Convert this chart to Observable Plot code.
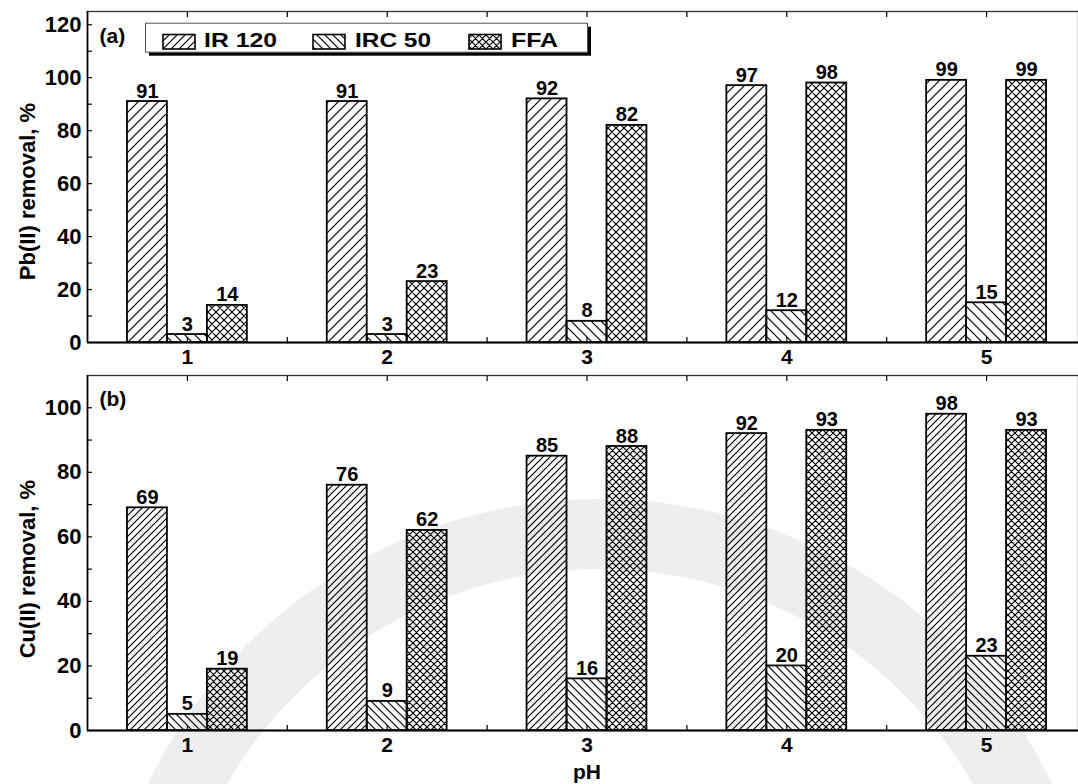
<!DOCTYPE html>
<html><head><meta charset="utf-8">
<script src="https://cdn.jsdelivr.net/npm/d3@7"></script>
<script src="https://cdn.jsdelivr.net/npm/@observablehq/plot@0.6"></script>
<style>
html,body{margin:0;padding:0;background:#fff;overflow:hidden;}
#wrap{position:relative;width:1078px;height:784px;overflow:hidden;font-family:"Liberation Sans",Arial,sans-serif;font-weight:bold;color:#000;}
#wm{position:absolute;left:0;top:0;}
.panel{position:absolute;left:0;width:1078px;overflow:hidden;}
.panel svg{overflow:hidden;}
#legend{position:absolute;left:143px;top:21px;}
</style></head>
<body><div id="wrap">
<svg id="wm" width="1078" height="784"></svg>
<div class="panel" id="pa" style="top:0px"></div>
<div class="panel" id="pb" style="top:370px"></div>
<svg id="legend" width="455" height="42"></svg>
</div>
<script>
// ---- data ----
const pH = [1, 2, 3, 4, 5];
const seriesNames = ["IR 120", "IRC 50", "FFA"];
// (a) Pb(II) removal, %
const pbIR120 = [91, 91, 92, 97, 99];
const pbIRC50 = [3, 3, 8, 12, 15];
const pbFFA   = [14, 23, 82, 98, 99];
// (b) Cu(II) removal, %
const cuIR120 = [69, 76, 85, 92, 98];
const cuIRC50 = [5, 9, 16, 20, 23];
const cuFFA   = [19, 62, 88, 93, 93];
const yTicksA = [0, 20, 40, 60, 80, 100, 120];
const yTicksB = [0, 20, 40, 60, 80, 100];
const xTickLabels = ["1", "2", "3", "4", "5"];

// ---- watermark (faint background artifact of the scan) ----
d3.select("#wm").append("circle").attr("cx", 600).attr("cy", 1000).attr("r", 466)
  .attr("fill", "none").attr("stroke", "#eeeeee").attr("stroke-width", 70);

// ---- patterns ----
function addPatterns(svg, prefix, s) {
  const defs = d3.select(svg).insert("defs", ":first-child");
  const mk = (id, size, d) => {
    const p = defs.append("pattern").attr("id", id).attr("patternUnits", "userSpaceOnUse")
      .attr("width", size).attr("height", size);
    p.append("path").attr("d", d).attr("stroke", "#000").attr("stroke-width", 1.2)
      .attr("fill", "none").attr("stroke-linecap", "square");
  };
  const f = (n) => `M0,${n} L${n},0 M-1,1 L1,-1 M${n-1},${n+1} L${n+1},${n-1}`;
  const b = (n) => `M0,0 L${n},${n} M-1,${n-1} L1,${n+1} M${n-1},-1 L${n+1},1`;
  mk(prefix + "0", s[0], f(s[0]));
  mk(prefix + "1", s[1], b(s[1]));
  mk(prefix + "2", s[2], f(s[2]) + " " + b(s[2]));
}

function rows(vals) {
  const out = [];
  seriesNames.forEach((s, i) => vals[i].forEach((v, j) => out.push({series: s, idx: i, pH: pH[j], value: v})));
  return out;
}
const BW = 0.2;
const xMinor = [1, 1.5, 2, 2.5, 3, 3.5, 4, 4.5, 5];

function panel(o) {
  const data = rows(o.values);
  const marks = [];
  seriesNames.forEach((s, i) => {
    marks.push(Plot.rect(data.filter(d => d.idx === i), {
      x1: d => d.pH + (d.idx - 1.5) * BW, x2: d => d.pH + (d.idx - 0.5) * BW,
      y1: 0, y2: "value", fill: `url(#${o.prefix}${i})`, stroke: "#000", strokeWidth: 1.8
    }));
  });
  marks.push(
    Plot.text(data, {x: d => d.pH + (d.idx - 1) * BW, y: "value", text: d => String(d.value),
      lineAnchor: "bottom", dy: -4, fontSize: 20, fontWeight: "bold", fill: "#000"}),
    Plot.frame({stroke: "#333", strokeWidth: 1.3}),
    Plot.ruleY([0], {stroke: "#000", strokeWidth: 2}),
    Plot.ruleX([0.5], {stroke: "#000", strokeWidth: 1.6}),
    Plot.axisY({ticks: o.yTicks, tickSize: 0, tickPadding: 6, fontSize: 22, fontWeight: "bold", label: null}),
    Plot.axisY({ticks: o.yMinor, tickSize: 5, dx: 5, text: null, label: null, strokeWidth: 1.2}),
    Plot.axisX({ticks: pH, tickSize: 0, tickPadding: 7, fontSize: 21, fontWeight: "bold", label: null,
      tickFormat: (d, i) => xTickLabels[i]}),
    Plot.axisX({anchor: "bottom", ticks: xMinor, tickSize: 5, dy: -5, text: null, label: null, strokeWidth: 1.2}),
    Plot.axisX({anchor: "top", ticks: xMinor, tickSize: 5, dy: 5, text: null, label: null, strokeWidth: 1.2}),
    Plot.text([o.tag], {frameAnchor: "top-left", dx: 12, dy: o.tagDy, textAnchor: "start",
      lineAnchor: "middle", fontSize: 21, fontWeight: "bold", fill: "#000"}),
    Plot.text([o.yLabel], {frameAnchor: "left", y: () => o.yLabelAt, rotate: -90, dx: -60,
      textAnchor: "middle", lineAnchor: "middle", fontSize: 22, fontWeight: "bold", fill: "#000"})
  );
  if (o.xLabel) marks.push(Plot.text([o.xLabel], {x: () => 3, frameAnchor: "bottom", dy: 42,
      lineAnchor: "middle", fontSize: 21, fontWeight: "bold", fill: "#000"}));
  const svg = Plot.plot({
    width: 1078, height: o.height, marginLeft: 87, marginRight: 0,
    marginTop: o.marginTop, marginBottom: o.marginBottom,
    x: {domain: [0.5, 5.5], range: [87, 1086]},
    y: {domain: [0, o.yMax]},
    style: {background: "transparent", fontFamily: "'Liberation Sans', Arial, sans-serif",
      fontWeight: "bold", color: "#000", overflow: "hidden"},
    marks
  });
  addPatterns(svg, o.prefix, o.sizes);
  return svg;
}

document.getElementById("pa").append(panel({
  values: [pbIR120, pbIRC50, pbFFA], prefix: "pa", sizes: [10, 10, 8],
  height: 400, marginTop: 11, marginBottom: 58, yMax: 125,
  yTicks: yTicksA, yMinor: d3.range(0, 121, 10), tag: "(a)", tagDy: 25,
  yLabel: "Pb(II) removal, %", yLabelAt: 57
}));
document.getElementById("pb").append(panel({
  values: [cuIR120, cuIRC50, cuFFA], prefix: "pb", sizes: [7, 8, 7],
  height: 414, marginTop: 5, marginBottom: 54, yMax: 110,
  yTicks: yTicksB, yMinor: d3.range(0, 101, 10), tag: "(b)", tagDy: 24,
  yLabel: "Cu(II) removal, %", yLabelAt: 50, xLabel: "pH"
}));

// ---- legend ----
const lg = d3.select("#legend");
addPatterns(lg.node(), "lg", [8, 8, 7]);
lg.append("rect").attr("x", 6).attr("y", 5.7).attr("width", 442).attr("height", 29).attr("fill", "#000");
lg.append("rect").attr("x", 2.5).attr("y", 2.2).attr("width", 442).attr("height", 29)
  .attr("fill", "#fff").attr("stroke", "#555").attr("stroke-width", 1);
const swX = [20, 170, 326];
const txX = [61, 212, 368];
const txW = [73, 76, 47];
seriesNames.forEach((s, i) => {
  lg.append("rect").attr("x", swX[i]).attr("y", 13.5).attr("width", 32).attr("height", 14.5)
    .attr("fill", `url(#lg${i})`).attr("stroke", "#000").attr("stroke-width", 1.6);
  lg.append("text").attr("x", txX[i]).attr("y", 25.5).text(s)
    .attr("font-size", 21).attr("font-weight", "bold")
    .attr("font-family", "'Liberation Sans', Arial, sans-serif")
    .attr("textLength", txW[i]).attr("lengthAdjust", "spacingAndGlyphs");
});
</script>
</body></html>
